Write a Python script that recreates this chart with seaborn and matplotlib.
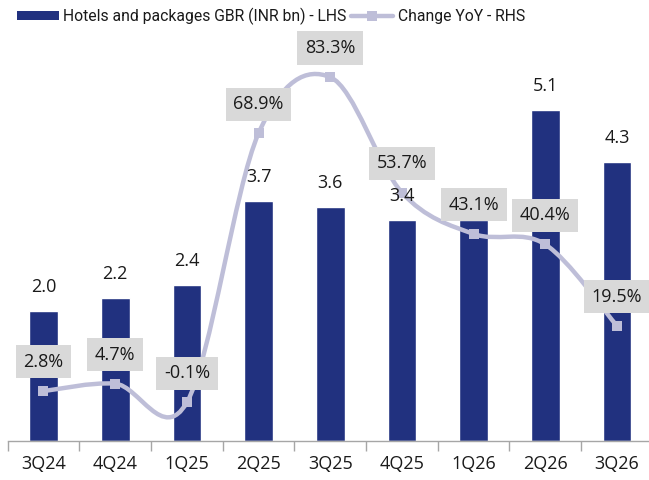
import matplotlib
matplotlib.use('Agg')
import matplotlib.pyplot as plt
import seaborn as sns
import numpy as np
import pandas as pd
from matplotlib.path import Path
from matplotlib.patches import PathPatch, Patch
from matplotlib.lines import Line2D

# ---- data ----
quarters = ['3Q24', '4Q24', '1Q25', '2Q25', '3Q25', '4Q25', '1Q26', '2Q26', '3Q26']
gbr = [2.0, 2.2, 2.4, 3.7, 3.6, 3.4, 3.4, 5.1, 4.3]
yoy = [2.8, 4.7, -0.1, 68.9, 83.3, 53.7, 43.1, 40.4, 19.5]
series_names = ['Hotels and packages GBR (INR bn) - LHS', 'Change YoY - RHS']

# ---- style ----
navy = '#21317F'
lav = '#BEBED8'
grey = '#A6A6A6'
txt = '#1a1a1a'
boxc = '#D9D9D9'
fs = 13

sns.set_theme(style='white')
plt.rcParams['font.family'] = ['Open Sans', 'DejaVu Sans']

W, H = 649, 480
fig = plt.figure(figsize=(W / 100, H / 100), dpi=100)
ax = fig.add_axes([7.65 / W, 1 - 441 / H, 645.2 / W, 390 / H])

df = pd.DataFrame({'quarter': quarters, 'gbr': gbr})
sns.barplot(data=df, x='quarter', y='gbr', color=navy, width=0.4,
            saturation=1, ax=ax, zorder=1)
n = len(quarters)
ax.set_ylim(0, 6)

ax2 = ax.twinx()
ax2.set_ylim(-10, 90)

# smooth (Excel-style) line through the YoY points
pts = np.column_stack([np.arange(n, dtype=float), np.array(yoy, dtype=float)])
verts = [pts[0]]
codes = [Path.MOVETO]
for i in range(n - 1):
    p0 = pts[max(i - 1, 0)]
    p1 = pts[i]
    p2 = pts[i + 1]
    p3 = pts[min(i + 2, n - 1)]
    c1 = p1 + (p2 - p0) / 6.0
    c2 = p2 - (p3 - p1) / 6.0
    verts += [c1, c2, p2]
    codes += [Path.CURVE4] * 3
ax2.add_patch(PathPatch(Path(verts, codes), facecolor='none', edgecolor=lav,
                        lw=3.2, capstyle='round', joinstyle='round', zorder=2))

sns.scatterplot(x=np.arange(n), y=yoy, marker='s', s=60, color=lav,
                edgecolor=lav, linewidth=0, ax=ax2, zorder=3, legend=False)

# bar value labels (above the line, below the % boxes)
for i, v in enumerate(gbr):
    ax2.annotate(f'{v:.1f}', xy=(i, v), xycoords=ax.transData,
                 xytext=(0, 17), textcoords='offset points',
                 ha='center', va='center', fontsize=fs, color=txt, zorder=4)

# YoY labels in grey boxes
for i, v in enumerate(yoy):
    ax2.annotate(f'{v:.1f}%', xy=(i, v), xytext=(0, 21), textcoords='offset points',
                 ha='center', va='center', fontsize=fs, color=txt, zorder=5,
                 bbox=dict(boxstyle='square,pad=0.42', facecolor=boxc, edgecolor='none'))

for a in (ax, ax2):
    a.set_xlim(-0.5, n - 0.5)
    a.set_xlabel('')
    a.set_ylabel('')
    a.set_yticks([])
    for s in ('top', 'left', 'right'):
        a.spines[s].set_visible(False)
ax2.spines['bottom'].set_visible(False)
ax.spines['bottom'].set_color(grey)
ax.spines['bottom'].set_linewidth(1.0)

ax.set_xticks(np.arange(n))
ax.set_xticklabels(quarters)
ax.set_xticks(np.arange(-0.5, n, 1.0), minor=True)
ax.tick_params(axis='x', which='major', length=0, pad=10, labelsize=fs, labelcolor=txt)
ax.tick_params(axis='x', which='minor', bottom=True, length=7, width=1.0,
               color=grey, direction='out')
ax2.tick_params(axis='x', which='both', bottom=False, top=False,
                labelbottom=False, labeltop=False)

handles = [Patch(facecolor=navy, edgecolor='none'),
           Line2D([0], [0], color=lav, lw=3.2, marker='s', markersize=7.5,
                  markeredgewidth=0)]
fig.legend(handles, series_names, loc='center left',
           bbox_to_anchor=(17 / W, 1 - 16 / H), ncol=2, frameon=False,
           prop={'family': ['Roboto', 'DejaVu Sans'], 'size': 11.3},
           handlelength=2.65, handleheight=0.5, handletextpad=0.3,
           columnspacing=0.3, borderpad=0, borderaxespad=0,
           labelcolor=txt)

fig.savefig('out.png', dpi=100)
